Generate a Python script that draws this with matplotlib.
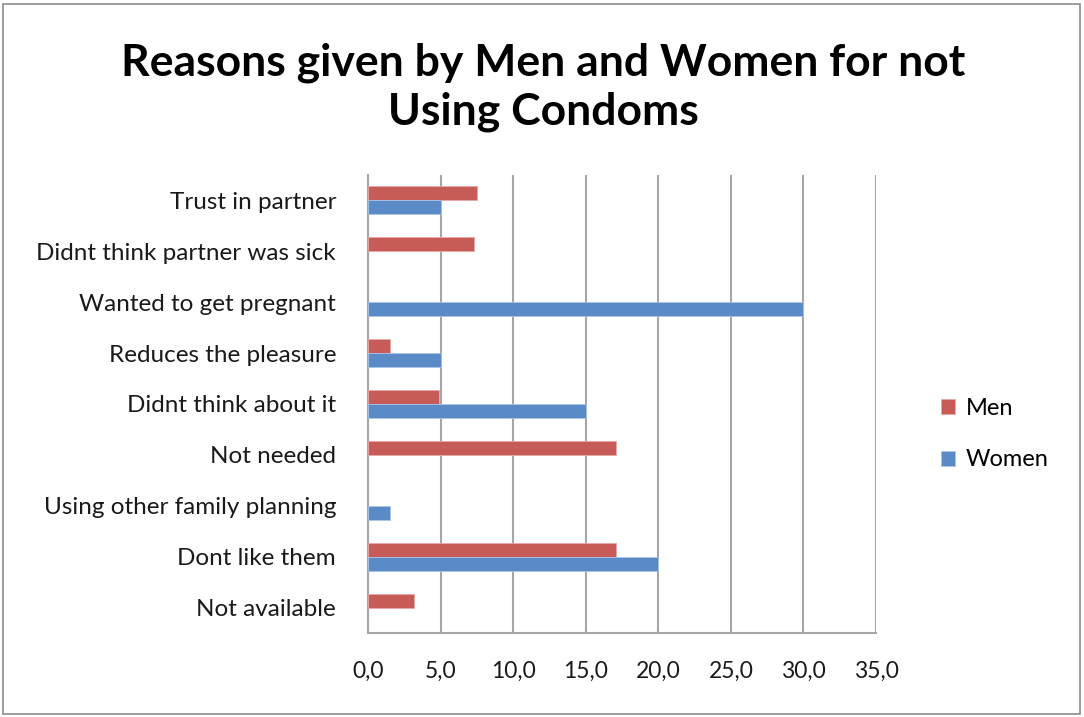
import matplotlib
matplotlib.use("Agg")
import matplotlib.pyplot as plt
from matplotlib.patches import Rectangle
import numpy as np

plt.rcParams['font.family'] = ['Lato', 'DejaVu Sans']

categories = ["Trust in partner", "Didnt think partner was sick", "Wanted to get pregnant",
              "Reduces the pleasure", "Didnt think about it", "Not needed",
              "Using other family planning", "Dont like them", "Not available"]
men = [7.5, 7.3, 0.0, 1.5, 4.9, 17.1, 0.0, 17.1, 3.2]
women = [5.0, 0.0, 30.0, 5.0, 15.0, 0.0, 1.5, 20.0, 0.0]
xticks = [0, 5, 10, 15, 20, 25, 30, 35]
xticklabels = ["0,0", "5,0", "10,0", "15,0", "20,0", "25,0", "30,0", "35,0"]

men_color = "#C65B57"
women_color = "#5B8BC6"
grid_color = "#A6A6A6"

fig = plt.figure(figsize=(10.84, 7.17), dpi=100)
ax = fig.add_axes([368 / 1084, 1 - 633 / 717, (876 - 368) / 1084, (633 - 175) / 717])

n = len(categories)
y = np.arange(n)
h = 0.275
ax.barh(y - h / 2, men, height=h, color=men_color, edgecolor="#E8A8A6",
        linewidth=[0.6 if v > 0 else 0 for v in men], label="Men", zorder=3)
ax.barh(y + h / 2, women, height=h, color=women_color, edgecolor="#A9C4E6",
        linewidth=[0.6 if v > 0 else 0 for v in women], label="Women", zorder=3)

ax.set_ylim(n - 0.5, -0.5)
ax.set_xlim(0, 35)
ax.set_yticks(y)
ax.set_yticklabels(categories, fontsize=17.5, color="#1a1a1a")
ax.set_xticks(xticks)
ax.set_xticklabels(xticklabels, fontsize=16.5, color="#1a1a1a")
ax.tick_params(axis="y", length=0, pad=23)
ax.tick_params(axis="x", length=0, pad=20)

ax.grid(axis="x", color=grid_color, linewidth=1.5, zorder=0)
for side in ["top", "right"]:
    ax.spines[side].set_visible(False)
for side in ["left", "bottom"]:
    ax.spines[side].set_color(grid_color)
    ax.spines[side].set_linewidth(1.5)

leg = fig.legend(loc="center left", bbox_to_anchor=(920 / 1084, 1 - 434 / 717), frameon=False,
                 fontsize=17, handlelength=0.6, handleheight=0.6, handletextpad=0.45,
                 labelspacing=1.3)

fig.text(543 / 1084, 1 - 87 / 717, "Reasons given by Men and Women for not\nUsing Condoms",
         ha="center", va="center", fontsize=32, fontweight="bold", linespacing=1.25, color="black")

fig.patches.append(Rectangle((3 / 1084, 3 / 717), 1 - 7 / 1084, 1 - 7 / 717, transform=fig.transFigure,
                             fill=False, edgecolor="#8C8C8C", linewidth=1.2))

fig.savefig("out.png", dpi=100, facecolor="white")
